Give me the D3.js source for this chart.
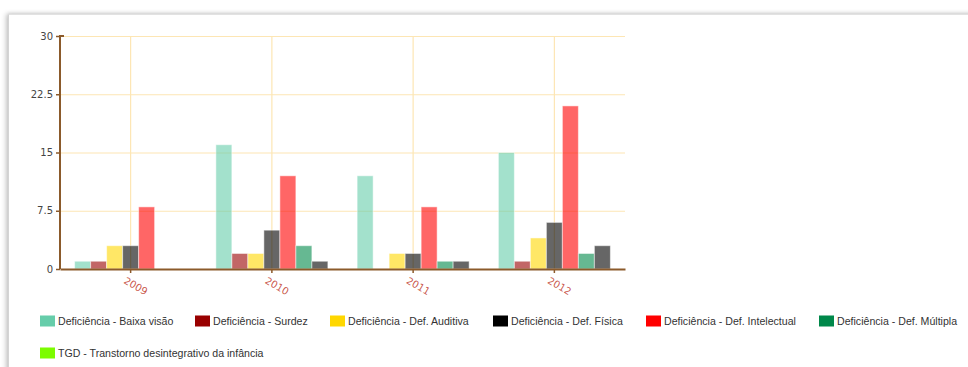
<!DOCTYPE html>
<html>
<head>
<meta charset="utf-8">
<script src="https://cdn.jsdelivr.net/npm/d3@7"></script>
<style>
  html, body { margin: 0; padding: 0; background: #fff; }
  body { width: 968px; height: 367px; overflow: hidden; position: relative; }
  .card {
    position: absolute; left: 8px; top: 14px; width: 1000px; height: 400px;
    background: #fff; border-top: 1px solid #e2e2e2; border-left: 1px solid #d4d4d4;
    box-shadow: -2px 0 5px rgba(0,0,0,0.22), 0 -1px 3px rgba(0,0,0,0.08);
  }
  svg { position: absolute; left: 0; top: 0; }
</style>
</head>
<body>
<div class="card"></div>
<svg id="chart" width="968" height="367"></svg>
<script>
// Years on the x axis
const years = ["2009", "2010", "2011", "2012"];

// Series names (legend order)
const seriesNames = [
  "Deficiência - Baixa visão",
  "Deficiência - Surdez",
  "Deficiência - Def. Auditiva",
  "Deficiência - Def. Física",
  "Deficiência - Def. Intelectual",
  "Deficiência - Def. Múltipla",
  "TGD - Transtorno desintegrativo da infância"
];

// Values per series, one per year
const baixaVisao  = [1, 16, 12, 15];
const surdez      = [1, 2, 0, 1];
const auditiva    = [3, 2, 2, 4];
const fisica      = [3, 5, 2, 6];
const intelectual = [8, 12, 8, 21];
const multipla    = [0, 3, 1, 2];
const tgd         = [0, 1, 1, 3];

// Y axis tick values
const yTicks = [0, 7.5, 15, 22.5, 30];

const seriesValues = [baixaVisao, surdez, auditiva, fisica, intelectual, multipla, tgd];
const legendColors = ["#66cdaa", "#990000", "#ffd700", "#000000", "#ff0000", "#00884a", "#7cfc00"];
// bar fills: the last series is rendered with the default dark fill
const barColors    = ["#66cdaa", "#990000", "#ffd700", "#000000", "#ff0000", "#00884a", "#000000"];

const svg = d3.select("#chart");
const plot = { left: 60, right: 625, top: 36, bottom: 269 };

const x0 = d3.scaleBand().domain(years).range([plot.left, plot.right]).padding(0);
const groupWidth = x0.bandwidth() * 0.793;
const x1 = d3.scaleBand().domain(d3.range(seriesNames.length)).range([0, groupWidth]).padding(0);
const y = d3.scaleLinear().domain([0, 30]).range([plot.bottom, plot.top]);

const axisColor = "#8b5a2b";
const gridColor = "#fde6b4";

// horizontal grid
svg.append("g")
  .selectAll("line")
  .data(yTicks.filter(t => t > 0))
  .join("line")
  .attr("x1", plot.left).attr("x2", plot.right)
  .attr("y1", d => y(d) + 0.5).attr("y2", d => y(d) + 0.5)
  .attr("stroke", gridColor).attr("stroke-width", 1.2);

// vertical grid at category centres
svg.append("g")
  .selectAll("line")
  .data(years)
  .join("line")
  .attr("x1", d => x0(d) + x0.bandwidth() / 2).attr("x2", d => x0(d) + x0.bandwidth() / 2)
  .attr("y1", plot.top).attr("y2", plot.bottom)
  .attr("stroke", gridColor).attr("stroke-width", 1.2);

// bars
const groups = svg.append("g")
  .selectAll("g")
  .data(years)
  .join("g")
  .attr("transform", d => `translate(${x0(d) + (x0.bandwidth() - groupWidth) / 2},0)`);

groups.selectAll("rect")
  .data((d, i) => seriesValues.map((vals, s) => ({ s, v: vals[i] })).filter(e => e.v > 0))
  .join("rect")
  .attr("x", d => x1(d.s))
  .attr("width", x1.bandwidth())
  .attr("y", d => y(d.v))
  .attr("height", d => y(0) - y(d.v))
  .attr("fill", d => barColors[d.s])
  .attr("fill-opacity", 0.6)
  .attr("stroke", "#ffffff")
  .attr("stroke-opacity", 0.5)
  .attr("stroke-width", 1);

// y axis
const yAxis = d3.axisLeft(y).tickValues(yTicks).tickSize(4).tickPadding(3)
  .tickFormat(d => String(d));
const gy = svg.append("g").attr("transform", `translate(${plot.left},0)`).call(yAxis);
gy.select(".domain").attr("stroke", axisColor).attr("stroke-width", 2)
  .attr("d", `M4,${plot.top}H0V${plot.bottom}`);
gy.selectAll(".tick line").attr("stroke", axisColor).attr("stroke-width", 1.5);
gy.selectAll(".tick text")
  .attr("fill", "#444").attr("font-family", "DejaVu Sans, sans-serif").attr("font-size", 10);

// x axis
const xAxis = d3.axisBottom(x0).tickSize(4).tickSizeOuter(0).tickPadding(6);
const gx = svg.append("g").attr("transform", `translate(0,${plot.bottom})`).call(xAxis);
gx.select(".domain").attr("stroke", axisColor).attr("stroke-width", 2);
gx.selectAll(".tick line").attr("stroke", axisColor).attr("stroke-width", 1.5);
gx.selectAll(".tick text")
  .attr("fill", "#c0392b").attr("fill-opacity", 0.85)
  .attr("font-family", "DejaVu Sans, sans-serif").attr("font-size", 10)
  .attr("text-anchor", "start")
  .attr("dy", "0.35em")
  .attr("transform", "translate(-1,2) rotate(30)");

// legend
const legendRows = [
  { y: 321, items: [0, 1, 2, 3, 4, 5], xs: [40, 195, 330, 493, 646, 819] },
  { y: 353, items: [6], xs: [40] }
];
const legend = svg.append("g").attr("font-family", "Liberation Sans, Arial, sans-serif").attr("font-size", 10.6);
legendRows.forEach(row => {
  row.items.forEach((s, k) => {
    const g = legend.append("g").attr("transform", `translate(${row.xs[k]},${row.y})`);
    g.append("rect").attr("x", 0).attr("y", -5.5).attr("width", 15).attr("height", 11)
      .attr("fill", legendColors[s]);
    g.append("text").attr("x", 18).attr("y", 0).attr("dy", "0.35em")
      .attr("fill", "#333").text(seriesNames[s]);
  });
});
</script>
</body>
</html>
